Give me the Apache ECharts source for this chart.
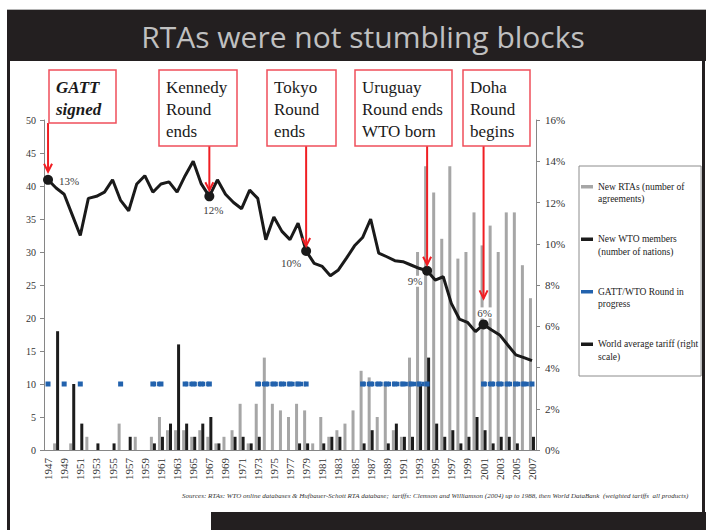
<!DOCTYPE html>
<html><head><meta charset="utf-8">
<script src="https://cdn.jsdelivr.net/npm/echarts@6/dist/echarts.min.js"></script>
<style>html,body{margin:0;padding:0;background:#fff}#main{width:706px;height:530px}</style>
</head><body><div id="main"></div>
<script>
// ---------- data ----------
const years = ['1947','1948','1949','1950','1951','1952','1953','1954','1955','1956',
  '1957','1958','1959','1960','1961','1962','1963','1964','1965','1966',
  '1967','1968','1969','1970','1971','1972','1973','1974','1975','1976',
  '1977','1978','1979','1980','1981','1982','1983','1984','1985','1986',
  '1987','1988','1989','1990','1991','1992','1993','1994','1995','1996',
  '1997','1998','1999','2000','2001','2002','2003','2004','2005','2006','2007'];
const newRTAs = [0,1,0,1,0,2,0,0,0,4,
  0,2,0,2,5,3,3,3,2,3,
  2,1,2,3,7,1,7,14,7,6,
  5,7,6,1,5,2,3,4,6,12,
  11,5,10,3,2,14,30,43,39,32,
  43,29,30,36,31,34,30,36,36,28,23];
const newWTOMembers = [0,18,0,10,4,0,1,0,1,0,
  2,0,0,1,2,4,16,4,2,4,
  5,1,0,2,2,1,2,0,0,0,
  0,1,1,0,1,2,2,0,0,1,
  3,0,1,4,2,2,10,14,4,2,
  3,1,2,5,3,1,2,2,1,0,2];
const roundInProgress = [10,null,10,null,10,null,null,null,null,10,
  null,null,null,10,10,null,null,10,10,10,
  10,null,null,null,null,null,10,10,10,10,
  10,10,10,null,null,null,null,null,null,10,
  10,10,10,10,10,10,10,10,null,null,
  null,null,null,null,10,10,10,10,10,10,10];
const worldTariff = [13.1,12.7,12.4,11.4,10.4,12.2,12.3,12.5,13.1,12.1,
  11.6,12.9,13.3,12.5,12.9,13.0,12.5,13.3,14.0,12.9,
  12.3,13.1,12.4,12.0,11.7,12.6,12.2,10.2,11.3,10.6,
  10.2,11.0,9.65,9.05,8.9,8.45,8.73,9.3,9.9,10.3,
  11.2,9.55,9.37,9.18,9.13,8.97,8.81,8.69,8.24,8.4,
  7.11,6.35,6.19,5.74,6.09,5.82,5.58,5.09,4.61,4.48,4.33];
const leftTicks = {min:0, max:50, interval:5};
const rightTicks = {min:0, max:16, interval:2};
const seriesNames = ['New RTAs (number of\nagreements)','New WTO members\n(number of nations)',
  'GATT/WTO Round in\nprogress','World average tariff (right\nscale)'];
const eventYears = ['1947','1967','1979','1994','2001'];
const eventTexts = ['GATT\nsigned','Kennedy\nRound\nends','Tokyo\nRound\nends','Uruguay\nRound ends\nWTO born','Doha\nRound\nbegins'];
const titleText = 'RTAs were not stumbling blocks';
const sourceText = 'Sources: RTAs: WTO online databases & Hufbauer-Schott RTA database;  tariffs: Clemson and Williamson (2004) up to 1988, then World DataBank  (weighted tariffs  all products)';

// ---------- styles ----------
const SERIF = "'Liberation Serif', serif";
const labelStyles = {
  '1947': {position:'right', distance:5, offset:[0,1]},
  '1967': {position:'bottom', distance:3, offset:[4,0]},
  '1979': {position:'bottom', distance:2, offset:[-15,0]},
  '1994': {position:'bottom', distance:2, offset:[-12,-2]},
  '2001': {position:'top', distance:1, offset:[1,0]}
};
const boxStyles = [
  {x:49, y:70, w:67, h:53, bold:true, gap:8},
  {x:159, y:70, w:78, h:76, gap:6},
  {x:267, y:70, w:69, h:76, gap:5},
  {x:355, y:70, w:97, h:76, gap:6},
  {x:463, y:70, w:67, h:76, gap:26}
];

const tariffData = worldTariff.map((v, i) => {
  const yr = years[i];
  if (eventYears.indexOf(yr) < 0) return {value: v, symbol: 'none'};
  return {value: v, symbol: 'circle', symbolSize: 10,
    label: Object.assign({show: true}, labelStyles[yr])};
});

const axisColor = '#868686';
const chart = echarts.init(document.getElementById('main'), null, {renderer: 'svg'});
const option = {
  animation: false,
  backgroundColor: '#ffffff',
  title: [
    {text: titleText, left: 358, top: 16, textAlign: 'center',
      textStyle: {fontFamily: 'Open Sans', fontSize: 30, fontWeight: 'normal', color: '#c0c0c0'}},
    {text: sourceText, left: 177, top: 487,
      textStyle: {fontFamily: SERIF, fontSize: 7, fontStyle: 'italic', fontWeight: 'normal', color: '#333'}}
  ],
  legend: {
    orient: 'vertical', left: 579, top: 166,
    padding: [2, 3, 13, 2], itemGap: 15, itemWidth: 12, itemHeight: 3.5,
    borderColor: '#8c8c8c', borderWidth: 1, backgroundColor: '#fff',
    formatter: n => ' \n' + n,
    textStyle: {fontFamily: SERIF, fontSize: 9.5, lineHeight: 12.5, color: '#222'},
    data: seriesNames.map(n => ({name: n, icon: 'rect'}))
  },
  grid: {left: 44, right: 170, top: 120, bottom: 80, containLabel: false},
  xAxis: {
    type: 'category', data: years, boundaryGap: true,
    axisLine: {lineStyle: {color: axisColor, width: 1}},
    axisTick: {interval: 1, length: 4, lineStyle: {color: axisColor}},
    axisLabel: {interval: 1, rotate: 90, margin: 8, fontFamily: SERIF, fontSize: 11, color: '#333'},
    splitLine: {show: false}
  },
  yAxis: [
    {type: 'value', min: leftTicks.min, max: leftTicks.max, interval: leftTicks.interval,
      axisLine: {show: true, lineStyle: {color: axisColor}},
      axisTick: {show: true, length: 4, lineStyle: {color: axisColor}},
      axisLabel: {fontFamily: SERIF, fontSize: 10, color: '#333', margin: 8},
      splitLine: {show: false}},
    {type: 'value', position: 'right', min: rightTicks.min, max: rightTicks.max, interval: rightTicks.interval,
      axisLine: {show: true, lineStyle: {color: axisColor}},
      axisTick: {show: true, length: 4, lineStyle: {color: axisColor}},
      axisLabel: {fontFamily: SERIF, fontSize: 11, color: '#333', margin: 9, formatter: '{value}%'},
      splitLine: {show: false}}
  ],
  series: [
    {name: seriesNames[0], type: 'bar', yAxisIndex: 0, data: newRTAs, barWidth: 3, barGap: '0%',
      itemStyle: {color: '#a6a6a6'}, z: 2},
    {name: seriesNames[1], type: 'bar', yAxisIndex: 0, data: newWTOMembers, barWidth: 3, barGap: '0%',
      itemStyle: {color: '#1c1c1c'}, z: 2},
    {name: seriesNames[2], type: 'line', yAxisIndex: 0, data: roundInProgress, connectNulls: false,
      symbol: 'rect', symbolSize: 5, showSymbol: true, showAllSymbol: true,
      itemStyle: {color: '#2262ad'},
      lineStyle: {color: '#2262ad', width: 4.5, type: [3.3, 0.9], cap: 'butt'}, z: 3},
    {name: seriesNames[3], type: 'line', yAxisIndex: 1, data: tariffData,
      symbol: 'circle', symbolSize: 10, showSymbol: true, showAllSymbol: true,
      itemStyle: {color: '#1a1a1a'},
      lineStyle: {color: '#1a1a1a', width: 3},
      label: {show: false, formatter: p => Math.round(p.value) + '%', fontFamily: SERIF, fontSize: 11,
        color: '#404040', backgroundColor: '#fff', padding: [0, 1]},
      z: 4}
  ]
};
chart.setOption(option);

// ---------- annotations, frame ----------
const red = '#f01e23';
const gfx = [
  {type: 'rect', shape: {x: 7, y: 9, width: 699, height: 1}, style: {fill: '#b4b4b4'}, z: 0},
  {type: 'rect', shape: {x: 7, y: 10, width: 699, height: 51}, style: {fill: '#231f20'}, z: 0},
  {type: 'rect', shape: {x: 7, y: 61, width: 3, height: 469}, style: {fill: '#231f20'}, z: 0},
  {type: 'rect', shape: {x: 702, y: 61, width: 3, height: 451}, style: {fill: '#231f20'}, z: 0},
  {type: 'rect', shape: {x: 211, y: 512, width: 495, height: 18}, style: {fill: '#231f20'}, z: 0}
];
eventYears.forEach((yr, i) => {
  const idx = years.indexOf(yr);
  const px = chart.convertToPixel({xAxisIndex: 0}, idx);
  const py = chart.convertToPixel({yAxisIndex: 1}, worldTariff[idx]);
  const b = boxStyles[i];
  const yEnd = py - b.gap;
  gfx.push({type: 'line', shape: {x1: px, y1: b.y + b.h, x2: px, y2: yEnd},
    style: {stroke: red, lineWidth: 2}, z: 90});
  gfx.push({type: 'polyline', shape: {points: [[px - 4, yEnd - 8], [px, yEnd], [px + 4, yEnd - 8]]},
    style: {stroke: red, lineWidth: 2, fill: null}, z: 90});
  gfx.push({type: 'rect', shape: {x: b.x, y: b.y, width: b.w, height: b.h},
    style: {fill: '#fff', stroke: '#ef4f5b', lineWidth: 1.5}, z: 100});
  gfx.push({type: 'text', x: b.x + 7, y: b.y + 6, z: 101,
    style: {text: eventTexts[i], fontFamily: SERIF, fontSize: 17, lineHeight: 22,
      fontWeight: b.bold ? 'bold' : 'normal', fontStyle: b.bold ? 'italic' : 'normal',
      fill: '#1a1a1a', verticalAlign: 'top', align: 'left'}});
});
chart.setOption({graphic: gfx});
</script></body></html>
